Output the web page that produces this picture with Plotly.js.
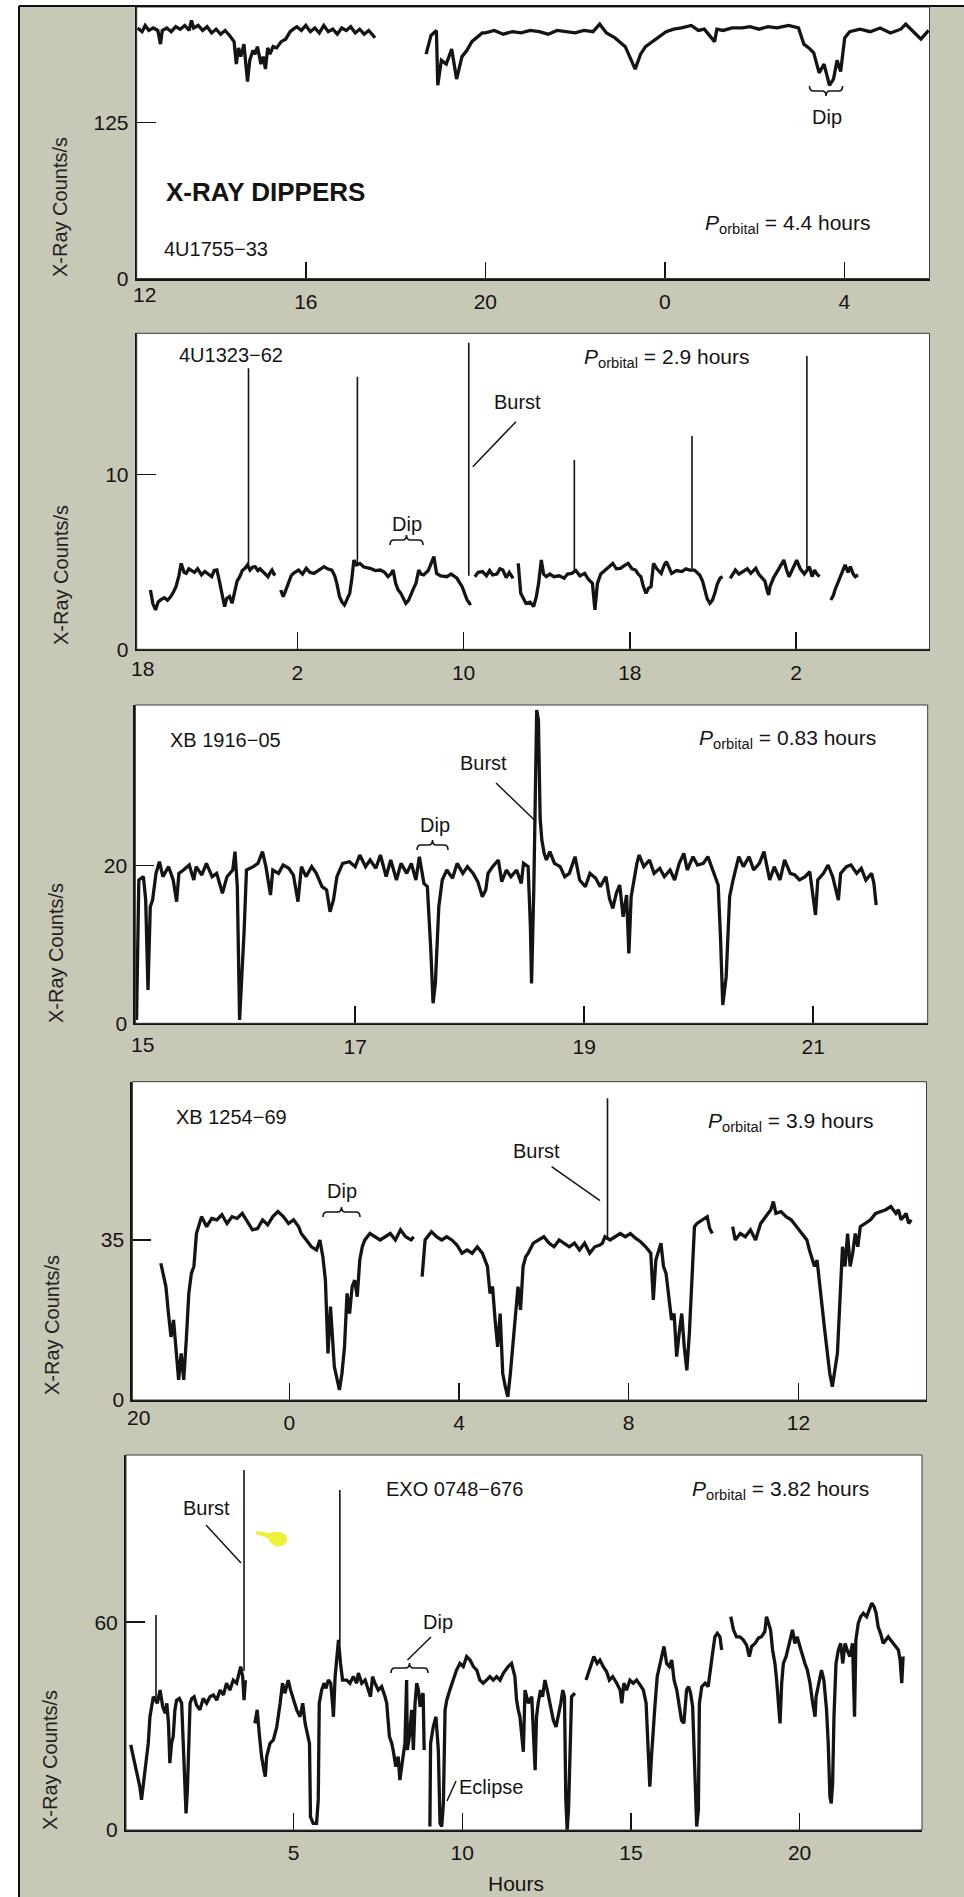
<!DOCTYPE html>
<html><head><meta charset="utf-8">
<script src="https://cdn.plot.ly/plotly-3.0.1.min.js"></script>
<style>html,body{margin:0;padding:0;background:#c7c9b6;}#chart{width:964px;height:1897px;}</style>
</head><body><div id="chart"></div>
<script>
// ---------------- DATA ----------------
// Panel 1: 4U1755-33 (hours continue past midnight: 24 = 0h, 28 = 4h)
const p1_hours = [12.25,12.35,12.42,12.5,12.6,12.7,12.76,12.8,12.9,13.0,
 13.1,13.2,13.3,13.4,13.45,13.5,13.6,13.7,13.8,13.9,
 14.0,14.1,14.2,14.3,14.4,14.45,14.5,14.55,14.62,14.7,
 14.75,14.82,14.87,14.92,15.0,15.05,15.1,15.15,15.2,15.27,
 15.35,15.45,15.55,15.65,15.72,15.8,15.9,16.0,16.1,16.2,
 16.3,16.4,16.5,16.6,16.7,16.8,16.9,17.0,17.1,17.2,
 17.3,17.4,17.5,17.54,null,
 18.68,18.79,18.91,18.94,19.02,19.13,19.25,19.36,19.48,19.59,
 19.7,19.82,19.93,20.0,20.2,20.4,20.6,20.8,21.0,21.2,
 21.4,21.6,21.8,22.0,22.2,22.4,22.55,22.7,22.89,23.12,
 23.34,23.46,23.57,23.8,24.03,24.2,24.37,24.59,24.75,24.88,
 25.11,25.16,25.3,25.5,25.73,25.9,26.1,26.3,26.5,26.76,
 26.98,27.1,27.21,27.32,27.44,27.55,27.67,27.76,27.84,27.92,
 28.01,28.12,28.35,28.58,28.8,29.03,29.26,29.37,29.54,29.71,
 29.88];
const p1_counts = [201,198,203,199,201,199,188,199,201,198,
 202,200,203,199,207,201,203,199,202,197,
 200,196,199,195,190,172,185,178,188,158,
 175,183,180,186,172,178,168,185,180,186,
 185,190,192,198,200,202,199,203,198,201,
 197,203,198,200,196,201,199,202,197,200,
 196,199,195,193,null,
 180,195,199,155,175,172,184,160,178,183,
 190,194,197,197,199,196,198,197,199,198,
 196,199,198,197,199,198,204,197,193,186,
 168,180,186,192,198,200,201,203,199,200,
 190,200,199,201,201,202,200,202,201,203,
 201,188,185,181,165,172,155,160,175,166,
 193,198,200,198,201,197,200,204,198,192,
 199];
const p1_xtickvals = [16,20,24,28];
const p1_xticktext = ['16','20','0','4'];
const p1_ytickvals = [0,125];

// Panel 2: 4U1323-62 (26 = 2h, 34 = 10h, 42 = 18h, 50 = 2h)
const p2_hours = [18.93,19.05,19.18,19.3,19.42,19.6,19.75,19.91,20.05,20.16,
 20.3,20.41,20.55,20.65,20.78,20.90,21.05,21.2,21.39,21.55,
 21.7,21.88,22.0,22.13,22.25,22.37,22.45,22.50,22.6,22.74,
 22.86,22.99,23.1,23.23,23.35,23.48,23.60,23.72,23.85,23.97,
 24.1,24.2,24.34,24.45,24.59,24.7,24.78,24.87,24.95,null,
 25.2,25.32,25.45,25.57,25.7,25.81,25.95,26.06,26.25,26.43,
 26.6,26.8,27.0,27.29,27.45,27.66,27.8,27.9,28.03,28.15,
 28.27,28.4,28.52,28.62,28.72,28.85,29.01,29.2,29.5,29.75,
 29.99,30.2,30.36,30.5,30.61,30.73,30.85,30.98,31.1,31.22,
 31.35,31.47,31.6,31.71,31.84,31.95,32.08,32.3,32.57,32.7,
 32.9,33.19,33.4,33.68,33.8,33.93,34.05,34.17,34.3,34.37,null,
 34.54,34.7,34.91,35.1,35.25,35.4,35.6,35.75,35.89,36.05,36.2,36.38,null,
 36.63,36.75,36.88,37.0,37.2,37.37,37.5,37.61,37.74,37.85,
 37.98,38.15,38.35,38.6,38.84,39.0,39.21,39.4,39.6,39.83,
 40.0,40.2,40.32,40.44,40.6,40.81,41.0,41.18,41.35,41.55,
 41.75,41.92,42.1,42.28,42.4,42.53,42.65,42.78,42.9,43.02,
 43.14,43.3,43.51,43.65,43.76,43.9,44.01,44.25,44.5,44.7,
 44.87,45.11,45.25,45.36,45.5,45.6,45.72,45.85,45.97,46.09,
 46.2,46.34,46.46,null,
 46.83,47.0,47.08,47.25,47.45,47.65,47.82,47.95,48.06,48.2,
 48.31,48.5,48.62,48.68,48.75,48.8,48.92,49.04,49.2,49.41,
 49.55,49.66,49.8,49.9,50.03,50.2,50.4,50.64,50.77,50.89,
 51.0,51.13,null,
 51.67,51.8,51.87,52.0,52.12,52.25,52.36,52.5,52.61,52.75,52.85,52.98];
const p2_counts = [3.39,2.6,2.25,2.7,2.82,2.95,2.8,3.01,3.3,3.58,
 4.2,4.91,4.4,4.34,4.6,4.53,4.4,4.6,4.25,4.45,
 4.3,4.15,4.5,4.53,3.9,3.2,2.5,2.44,2.9,3.01,
 2.63,3.39,3.9,4.15,4.5,4.63,4.82,4.53,4.7,4.72,
 4.5,4.6,4.44,4.3,4.15,4.4,4.53,4.3,4.25,null,
 3.39,3.01,3.4,3.77,4.2,4.34,4.45,4.53,4.3,4.63,
 4.4,4.34,4.5,4.72,4.6,4.53,4.2,3.77,3.01,2.7,
 2.53,2.9,3.20,4.0,5.1,4.82,4.91,4.7,4.63,4.5,
 4.53,4.4,4.15,4.3,4.53,3.77,3.4,3.20,2.9,2.63,
 2.8,3.20,3.5,3.77,4.53,4.3,4.25,4.5,5.3,4.34,
 4.2,4.15,4.3,4.06,3.8,3.58,3.2,2.82,2.6,2.63,null,
 4.15,4.4,4.44,4.2,4.5,4.25,4.3,4.6,4.53,4.1,4.4,4.06,null,
 4.91,3.2,2.9,2.63,2.7,2.44,3.0,3.77,5.1,4.3,
 4.15,4.3,4.15,4.2,4.06,4.3,4.34,4.5,4.2,4.34,
 4.0,3.77,2.25,3.77,4.3,4.53,4.7,4.91,4.6,4.63,
 4.8,4.91,4.6,4.53,4.3,4.15,3.6,3.2,3.5,3.58,
 4.91,4.6,4.34,4.8,5.01,4.6,4.34,4.5,4.44,4.6,
 4.53,4.53,4.4,4.25,3.9,3.39,2.9,2.63,2.8,3.2,
 3.7,4.06,4.15,null,
 4.06,4.4,4.53,4.3,4.44,4.6,4.34,4.5,4.63,4.3,
 4.15,3.9,3.3,3.1,3.6,3.77,4.1,4.34,4.7,5.1,
 4.5,4.15,4.5,4.82,5.1,4.6,4.3,4.72,4.15,4.53,
 4.3,4.15,null,
 2.82,3.1,3.39,3.8,4.15,4.5,4.82,4.4,4.72,4.3,4.15,4.25];
const p2_burstHours = [23.65,28.89,34.25,39.33,44.99,50.52];
const p2_burstBase  = [4.8,4.9,4.2,4.4,4.6,4.5];
const p2_burstPeak  = [16.06,15.58,17.52,10.82,12.19,16.76];
const p2_xtickvals = [26,34,42,50];
const p2_xticktext = ['2','10','18','2'];
const p2_ytickvals = [0,10];

// Panel 3: XB 1916-05
const p3_hours = [15.09,15.11,15.15,15.17,15.19,15.21,15.23,15.26,15.29,15.32,
 15.37,15.41,15.44,15.46,15.50,15.55,15.59,15.61,15.66,15.70,
 15.75,15.79,15.84,15.88,15.93,15.95,15.97,15.99,16.03,16.05,
 16.11,16.15,16.19,16.22,16.26,16.28,16.33,16.37,16.42,16.46,
 16.50,16.53,16.57,16.62,16.66,16.71,16.75,16.78,16.81,16.84,
 16.89,16.95,17.00,17.04,17.09,17.13,17.18,17.22,17.27,17.31,
 17.36,17.40,17.45,17.49,17.53,17.56,17.60,17.63,17.66,17.68,
 17.70,17.73,17.76,17.80,17.85,17.89,17.94,17.98,18.03,18.07,
 18.11,18.14,18.16,18.20,18.25,18.28,18.32,18.36,18.41,18.45,
 18.47,18.51,18.53,18.54,18.56,18.585,18.60,18.615,18.63,18.65,
 18.67,18.70,18.74,18.79,18.83,18.87,18.92,18.96,19.01,19.05,
 19.10,19.14,19.19,19.22,19.25,19.28,19.31,19.34,19.37,19.39,
 19.41,19.46,19.48,19.52,19.57,19.61,19.66,19.70,19.75,19.79,
 19.83,19.87,19.90,19.95,19.99,20.04,20.08,20.13,20.17,20.19,
 20.21,20.24,20.27,20.30,20.35,20.39,20.44,20.48,20.53,20.57,
 20.62,20.66,20.71,20.75,20.80,20.84,20.88,20.93,20.97,21.02,
 21.04,21.09,21.13,21.17,21.22,21.24,21.29,21.33,21.38,21.42,
 21.46,21.51,21.53,21.55];
const p3_counts = [0.42,18.19,18.61,15.65,4.23,14.80,15.65,19.03,20.51,18.61,
 19.88,18.19,15.44,19.03,19.46,20.09,18.19,19.88,18.82,20.30,
 18.61,19.03,16.50,18.61,19.46,21.78,17.34,0.42,11.84,19.46,
 19.88,20.30,21.78,19.88,16.28,19.46,19.03,20.09,19.67,18.82,
 15.44,19.88,18.61,19.88,19.03,17.34,16.92,14.17,15.65,18.61,
 20.30,20.51,19.88,21.36,19.88,20.73,19.67,21.36,18.61,20.73,
 18.19,20.30,19.03,20.30,18.19,21.15,17.76,17.34,9.30,2.54,
 5.07,14.80,18.19,19.46,18.40,20.30,19.03,19.88,19.03,17.98,
 16.07,16.92,19.03,19.88,20.73,17.98,19.46,18.61,19.46,17.76,
 20.30,19.88,12.27,5.07,17.34,39.76,38.5,26.0,23.26,21.57,
 20.73,21.78,20.30,19.88,18.61,19.03,21.15,18.19,17.34,19.03,
 18.40,17.34,18.61,15.86,14.59,16.50,17.55,13.53,16.28,8.88,
 16.07,20.30,21.36,19.88,20.73,19.03,19.67,18.61,19.46,18.19,
 20.30,21.57,19.46,21.15,20.09,20.30,21.15,19.03,17.55,11.0,
 2.32,5.92,16.07,18.19,21.15,19.88,21.15,19.46,20.30,21.78,
 18.19,19.88,18.19,20.73,19.03,18.82,18.19,18.61,19.25,13.75,
 18.19,19.03,20.09,18.61,15.65,19.03,19.88,20.09,19.03,19.67,
 18.19,19.03,17.76,15.01];
const p3_xtickvals = [17,19,21];
const p3_xticktext = ['17','19','21'];
const p3_ytickvals = [0,20];

// Panel 4: XB 1254-69 (24 = 0h ... 36 = 12h)
const p4_hours = [20.97,21.03,21.09,21.15,21.21,21.27,21.33,21.39,21.45,21.51,
 21.57,21.63,21.69,21.75,21.81,21.87,21.93,22.05,22.17,22.29,
 22.41,22.53,22.65,22.77,22.89,23.01,23.13,23.25,23.37,23.49,
 23.61,23.73,23.86,23.98,24.10,24.22,24.28,24.40,24.52,24.64,
 24.72,24.79,24.85,24.91,24.97,25.06,25.12,25.18,25.24,25.30,
 25.36,25.42,25.48,25.54,25.60,25.66,25.72,25.78,25.90,26.02,
 26.14,26.26,26.38,26.50,26.62,26.74,26.87,26.93,null,
 27.13,27.20,27.35,27.47,27.59,27.71,27.83,27.95,28.07,28.19,
 28.31,28.43,28.55,28.67,28.73,28.79,28.85,28.91,28.97,29.03,
 29.09,29.15,29.21,29.27,29.33,29.39,29.45,29.51,29.57,29.63,
 29.75,29.88,30.00,30.12,30.24,30.36,30.48,30.60,30.72,30.84,
 30.96,31.08,31.20,31.32,31.38,31.44,31.56,31.68,31.80,31.92,
 32.04,32.16,32.28,32.40,32.52,32.58,32.64,32.76,32.82,32.88,
 32.95,33.01,33.07,33.13,33.19,33.25,33.31,33.37,33.43,33.49,
 33.55,33.61,33.73,33.85,33.91,33.97,null,
 34.45,34.51,34.63,34.75,34.87,34.99,35.11,35.23,35.35,35.41,
 35.47,35.59,35.71,35.83,35.95,36.08,36.20,36.26,36.38,36.44,
 36.50,36.56,36.62,36.68,36.74,36.80,36.86,36.92,36.98,37.04,
 37.10,37.16,37.22,37.28,37.34,37.40,37.46,37.58,37.70,37.82,
 37.94,38.06,38.18,38.30,38.36,38.42,38.54,38.60,38.66];
const p4_counts = [29.9,27.7,24.8,18.9,13.8,17.5,11.6,4.4,10.2,4.4,
 13.1,23.3,27.7,29.2,36.4,38.6,40.1,37.9,39.7,39.4,
 40.5,38.6,40.1,39.7,40.8,39.0,37.2,37.5,39.4,38.3,
 40.1,41.2,40.1,38.6,39.4,37.9,36.4,35.0,33.5,32.8,
 35.0,31.3,26.2,10.2,20.4,7.3,4.4,2.2,5.8,11.6,
 23.3,18.9,24.8,26.2,22.6,30.6,33.5,35.0,36.4,35.7,
 35.0,35.7,36.4,35.0,37.2,35.7,35.0,35.7,null,
 27.0,35.0,36.8,35.7,35.0,35.7,35.0,33.9,32.1,32.8,
 32.1,33.5,32.1,29.2,23.3,24.8,17.5,11.6,18.9,5.8,
 2.9,0.7,5.8,11.6,18.9,24.8,19.7,29.2,31.3,32.1,
 34.3,35.0,35.7,34.3,33.5,35.0,34.3,33.5,34.3,32.8,
 34.3,32.1,33.5,33.9,34.3,35.7,35.0,35.7,36.4,35.7,
 36.4,35.4,34.6,33.5,32.1,21.9,30.6,34.3,29.2,27.7,
 22.6,17.5,18.9,9.5,14.6,18.9,11.6,6.5,14.6,26.2,
 37.9,38.6,39.4,40.1,37.5,36.4,null,
 37.9,35.0,36.4,35.7,37.2,35.0,38.6,40.1,41.6,43.4,
 40.8,41.2,40.1,39.4,37.9,36.4,35.0,32.8,29.2,30.6,
 24.8,20.4,15.3,10.2,5.8,2.9,6.5,10.2,21.9,33.5,
 29.2,36.4,29.2,32.1,36.4,33.5,37.9,38.6,39.4,40.8,
 41.2,41.6,42.3,40.8,41.6,39.4,40.8,38.6,39.4];
const p4_burstHours = [31.50];
const p4_burstBase  = [35.5];
const p4_burstPeak  = [66.0];
const p4_xtickvals = [24,28,32,36];
const p4_xticktext = ['0','4','8','12'];
const p4_ytickvals = [0,35];

// Panel 5: EXO 0748-676
const p5_hours = [0.17,0.25,0.35,0.44,0.49,0.54,0.62,0.69,0.74,0.79,
 0.84,0.96,1.04,1.12,1.19,1.24,1.29,1.33,1.38,1.43,
 1.48,1.53,1.61,1.68,1.73,1.78,1.81,1.85,1.90,1.93,
 1.98,2.05,2.12,2.22,2.32,2.42,2.52,2.62,2.72,2.82,
 2.92,3.01,3.11,3.21,3.31,3.39,3.43,3.49,3.53,3.57,null,
 3.85,3.92,3.98,4.05,4.12,4.16,4.20,4.25,4.30,4.40,
 4.50,4.60,4.67,4.74,4.84,4.91,4.99,5.09,5.19,5.27,
 5.34,5.39,5.47,5.50,5.58,5.68,5.73,5.76,5.83,5.90,
 5.96,6.03,6.10,6.16,6.18,6.23,6.29,6.33,6.39,6.45,
 6.57,6.67,6.77,6.87,6.92,7.02,7.12,7.21,7.28,7.34,
 7.41,7.51,7.61,7.71,7.76,7.84,7.91,7.95,8.03,8.10,
 8.15,8.23,8.30,8.35,8.37,8.43,8.50,8.55,8.60,8.65,
 8.70,8.75,8.79,8.84,8.87,null,
 9.04,9.06,9.14,9.22,9.29,9.34,9.39,9.44,9.49,9.54,
 9.63,9.73,9.83,9.93,10.03,10.13,10.23,10.33,10.43,10.52,
 10.62,10.72,10.82,10.92,11.02,11.12,11.22,11.36,11.46,11.56,
 11.61,11.66,11.71,11.81,11.86,11.96,12.06,12.16,12.20,12.25,
 12.32,12.38,12.45,12.52,12.60,12.70,12.78,12.85,12.92,12.98,
 13.03,13.07,13.11,13.15,13.19,13.24,13.34,null,
 13.67,13.74,13.81,13.90,14.00,14.08,14.18,14.28,14.36,14.46,
 14.58,14.68,14.73,14.79,14.87,14.97,15.07,15.17,15.27,15.37,
 15.45,15.49,15.53,15.56,15.61,15.66,15.71,15.78,15.86,15.94,
 15.98,16.06,16.14,16.21,16.28,16.36,16.43,16.50,16.57,16.65,
 16.71,16.77,16.83,16.87,16.91,16.95,17.00,17.03,17.10,17.20,
 17.29,17.36,17.42,17.49,17.56,17.64,17.69,null,
 17.96,18.04,18.13,18.23,18.33,18.43,18.51,18.58,18.68,18.78,
 18.87,18.97,19.02,19.07,19.14,19.20,19.27,19.32,19.37,19.42,
 19.47,19.52,19.60,19.67,19.74,19.79,19.86,19.93,20.01,20.09,
 20.16,20.23,20.31,20.39,20.46,20.49,20.56,20.65,20.72,20.80,
 20.85,20.90,20.94,20.98,21.02,21.08,21.15,21.22,21.28,21.35,
 21.41,21.49,21.57,21.63,21.67,21.74,21.81,21.89,21.99,22.07,
 22.14,22.21,22.27,22.33,22.40,22.48,22.56,22.63,22.70,22.78,
 22.86,22.93,22.98,23.03,23.07];
const p5_counts = [24.6,21.2,17.3,12.5,8.7,13.5,19.3,25.0,32.7,35.6,
 38.5,36.6,40.4,35.6,33.7,36.6,30.8,19.3,25.0,27.0,
 34.7,37.5,38.0,36.6,24.1,13.5,4.8,11.5,27.0,36.6,
 38.0,38.5,36.1,34.7,38.0,36.6,38.5,39.0,37.5,40.4,
 39.0,42.4,40.4,43.3,42.4,45.3,47.2,44.3,37.5,43.3,null,
 30.8,34.7,27.9,21.2,17.3,15.4,21.2,23.1,25.0,26.0,
 29.8,36.6,42.4,39.5,43.3,40.4,37.5,34.7,32.7,36.6,
 30.8,28.9,25.0,3.8,1.9,1.9,8.7,36.6,40.4,42.4,
 40.9,43.3,42.4,35.6,32.7,44.3,51.0,54.9,48.1,43.3,
 43.3,42.4,44.3,42.4,45.3,42.4,43.3,40.4,38.5,44.3,
 42.4,40.4,41.4,38.5,36.6,27.0,25.0,23.1,18.3,21.2,
 14.4,20.2,25.0,43.3,23.1,27.0,34.7,23.1,36.6,42.4,
 40.4,35.6,38.5,39.5,23.1,null,
 1.0,25.0,29.8,32.7,23.1,1.9,1.0,7.7,34.7,37.5,
 40.4,43.3,46.2,48.1,47.2,50.1,49.1,47.2,46.2,43.3,
 42.4,43.3,44.3,43.3,44.3,43.3,45.3,47.2,48.1,44.3,
 37.5,34.7,32.7,22.6,40.4,36.6,38.5,17.3,32.7,36.6,
 40.4,38.5,43.3,40.4,36.6,31.7,29.8,32.7,36.6,40.4,
 38.5,8.7,0.0,5.8,23.1,38.5,39.5,null,
 43.3,45.3,47.2,50.1,48.1,49.1,47.2,45.7,43.3,44.3,
 42.4,40.4,36.6,42.4,40.4,43.3,42.4,43.3,41.9,40.4,
 36.6,26.0,14.4,12.5,21.2,27.0,35.6,44.3,48.1,52.0,
 53.0,48.1,47.2,49.1,43.3,40.4,35.6,31.7,30.8,40.4,
 41.4,39.5,35.6,21.2,6.7,1.0,5.8,36.6,41.4,42.4,
 41.4,47.2,51.0,55.8,56.8,55.8,52.0,null,
 61.6,57.8,55.8,55.8,54.9,53.4,50.1,53.0,53.9,55.4,
 55.8,57.3,61.6,59.7,57.8,52.0,48.1,43.3,36.6,30.8,
 42.4,48.1,50.1,53.0,54.9,57.8,53.9,55.8,53.0,50.1,
 48.1,46.2,42.4,36.6,32.7,38.5,42.4,46.2,43.3,34.7,
 25.0,9.6,7.7,13.5,32.7,48.1,52.0,53.9,48.1,53.9,
 52.0,50.1,53.9,32.7,54.9,59.7,61.6,62.6,61.6,63.5,
 65.5,64.5,62.6,58.7,56.8,53.9,54.9,55.8,54.9,53.9,
 52.9,52.0,49.1,42.4,50.1];
const p5_burstHours = [0.92,3.53,6.37];
const p5_burstBase  = [38,46,54];
const p5_burstPeak  = [62.1,104.0,98.2];
const p5_xtickvals = [0,5,10,15,20];
const p5_xticktext = ['0','5','10','15','20'];
const p5_ytickvals = [0,60];

const sourceNames = ['4U1755\u221233','4U1323\u221262','XB 1916\u221205','XB 1254\u221269','EXO 0748\u2212676'];
const periods = ['4.4','2.9','0.83','3.9','3.82'];
const firstXLabels = ['12','18','15','20',null];

// ---------------- LAYOUT ----------------
const W = 964, H = 1897;
const X = x => x / W, Y = y => 1 - y / H;
const FONT = 'Liberation Sans, Arial, Helvetica, sans-serif';
const INK = '#141414';
const TICK = 21, LBL = 20;

const frames = [
  {x0:136.7, x1:929.5, yt:7,      yb:278.5},
  {x0:136.7, x1:929.5, yt:333.3,  yb:649.3},
  {x0:135.4, x1:927.7, yt:705,    yb:1023.3},
  {x0:132.4, x1:926.5, yt:1081.7, yb:1400},
  {x0:126,   x1:922,   yt:1455,   yb:1830}
];
const xRanges = [[12.23,29.9],[18.27,56.42],[15.08,22.0],[20.30,39.02],[0.03,23.63]];
const yRanges = [[0,217.8],[0,18.06],[0,40.4],[0,69.6],[0,108.3]];
const curves = [[p1_hours,p1_counts],[p2_hours,p2_counts],[p3_hours,p3_counts],[p4_hours,p4_counts],[p5_hours,p5_counts]];
const bursts = [null,[p2_burstHours,p2_burstBase,p2_burstPeak],null,[p4_burstHours,p4_burstBase,p4_burstPeak],[p5_burstHours,p5_burstBase,p5_burstPeak]];
const xticks = [[p1_xtickvals,p1_xticktext],[p2_xtickvals,p2_xticktext],[p3_xtickvals,p3_xticktext],[p4_xtickvals,p4_xticktext],[p5_xtickvals,p5_xticktext]];
const yticks = [p1_ytickvals,p2_ytickvals,p3_ytickvals,p4_ytickvals,p5_ytickvals];
const firstLabelPos = [[144.6,295],[142.8,668],[142.8,1044],[138.5,1417],null];
const yTitlePos = [[60,207],[61,575],[56,953],[52,1325],[50,1760]];

const traces = [];
const layout = {
  width: W, height: H, margin: {l:0,r:0,t:0,b:0},
  paper_bgcolor: '#c7c9b6', plot_bgcolor: '#ffffff',
  showlegend: false, font: {family: FONT, color: INK},
  shapes: [], annotations: []
};

frames.forEach((f, i) => {
  const n = i + 1, xa = 'x' + n, ya = 'y' + n;
  traces.push({x: curves[i][0], y: curves[i][1], xaxis: xa, yaxis: ya, type: 'scatter', mode: 'lines',
    line: {color: INK, width: 3.3}, connectgaps: false, hoverinfo: 'skip'});
  if (bursts[i]) {
    const bx = [], by = [];
    bursts[i][0].forEach((t, k) => { bx.push(t, t, null); by.push(bursts[i][1][k], bursts[i][2][k], null); });
    traces.push({x: bx, y: by, xaxis: xa, yaxis: ya, type: 'scatter', mode: 'lines',
      line: {color: INK, width: 1.6}, hoverinfo: 'skip'});
  }
  layout['xaxis' + n] = {
    domain: [X(f.x0), X(f.x1)], range: xRanges[i], anchor: ya,
    showline: true, linecolor: INK, linewidth: 2, mirror: false,
    ticks: 'inside', ticklen: 17, tickwidth: 1.5, tickcolor: INK,
    tickmode: 'array', tickvals: xticks[i][0], ticktext: xticks[i][1],
    tickfont: {family: FONT, size: TICK, color: INK}, ticklabelstandoff: 3,
    showgrid: false, zeroline: false, fixedrange: true
  };
  layout['yaxis' + n] = {
    domain: [Y(f.yb), Y(f.yt)], range: yRanges[i], anchor: xa,
    showline: true, linecolor: INK, linewidth: 2,
    ticks: 'inside', ticklen: 19, tickwidth: 1.5, tickcolor: INK,
    tickmode: 'array', tickvals: yticks[i],
    tickfont: {family: FONT, size: TICK, color: INK}, ticklabelstandoff: 2,
    showgrid: false, zeroline: false, fixedrange: true
  };
  layout.shapes.push({type: 'rect', xref: 'paper', yref: 'paper', x0: X(f.x0), x1: X(f.x1), y0: Y(f.yb), y1: Y(f.yt),
    line: {color: '#3a3a3a', width: 1}, fillcolor: 'rgba(0,0,0,0)', layer: 'above'});
  if (firstXLabels[i]) {
    layout.annotations.push({xref: 'paper', yref: 'paper', x: X(firstLabelPos[i][0]), y: Y(firstLabelPos[i][1]),
      text: firstXLabels[i], showarrow: false, xanchor: 'center', yanchor: 'middle',
      font: {family: FONT, size: TICK, color: INK}});
  }
  layout.annotations.push({xref: 'paper', yref: 'paper', x: X(yTitlePos[i][0]), y: Y(yTitlePos[i][1]),
    text: 'X-Ray Counts/s', textangle: -90, showarrow: false, xanchor: 'center', yanchor: 'middle',
    font: {family: FONT, size: 20, color: '#222'}});
});

function txt(t, x, y, opts) {
  layout.annotations.push(Object.assign({xref: 'paper', yref: 'paper', x: X(x), y: Y(y), text: t, showarrow: false,
    xanchor: 'left', yanchor: 'middle', font: {family: FONT, size: LBL, color: INK}}, opts || {}));
}
function seg(x0, y0, x1, y1, w) {
  layout.shapes.push({type: 'line', xref: 'paper', yref: 'paper', x0: X(x0), y0: Y(y0), x1: X(x1), y1: Y(y1),
    line: {color: INK, width: w || 1.5}});
}
function brace(x0, x1, y, up) {
  const h = up ? 5 : -5, xm = (x0 + x1) / 2, r = 4;
  const P = (x, yy) => X(x).toFixed(5) + ',' + Y(yy).toFixed(5);
  const d = 'M' + P(x0, y + h) + ' Q' + P(x0, y) + ' ' + P(x0 + r, y) + ' L' + P(xm - r, y) +
    ' Q' + P(xm, y) + ' ' + P(xm, y - h) + ' Q' + P(xm, y) + ' ' + P(xm + r, y) +
    ' L' + P(x1 - r, y) + ' Q' + P(x1, y) + ' ' + P(x1, y + h);
  layout.shapes.push({type: 'path', xref: 'paper', yref: 'paper', path: d, line: {color: INK, width: 1.6}});
}
const porb = p => '<i>P</i><sub>orbital</sub> = ' + p + ' hours';
const PORB_FONT = {family: FONT, size: 21, color: INK};

// Panel 1
txt('X-RAY DIPPERS', 164, 192, {font: {family: FONT, size: 26, color: INK, weight: 'bold'}});
txt(sourceNames[0], 162, 249);
txt(porb(periods[0]), 703, 224, {font: PORB_FONT});
txt('Dip', 826.5, 117, {xanchor: 'center'});
brace(809.5, 842.6, 91, false);
// Panel 2
txt(sourceNames[1], 177, 355);
txt(porb(periods[1]), 582, 358, {font: PORB_FONT});
txt('Burst', 517, 402, {xanchor: 'center'});
seg(516, 421.7, 472.8, 466.7);
txt('Dip', 407, 524, {xanchor: 'center'});
brace(390, 423, 540, true);
// Panel 3
txt(sourceNames[2], 168, 740);
txt(porb(periods[2]), 697, 739, {font: PORB_FONT});
txt('Burst', 483, 763, {xanchor: 'center'});
seg(496, 783, 534.4, 820);
txt('Dip', 435, 825, {xanchor: 'center'});
brace(417, 448, 845, true);
// Panel 4
txt(sourceNames[3], 174, 1117);
txt(porb(periods[3]), 706, 1122, {font: PORB_FONT});
txt('Burst', 536, 1151, {xanchor: 'center'});
seg(551.6, 1166.7, 600, 1200.7);
txt('Dip', 342, 1191, {xanchor: 'center'});
brace(323, 360, 1212, true);
// Panel 5
txt(sourceNames[4], 384, 1489);
txt(porb(periods[4]), 690, 1490, {font: PORB_FONT});
txt('Burst', 206, 1508, {xanchor: 'center'});
seg(206, 1525, 241, 1563);
txt('Dip', 438, 1622, {xanchor: 'center'});
seg(431, 1637, 407.5, 1660);
brace(391, 428, 1668, true);
txt('Eclipse', 457, 1787);
seg(456, 1781, 447, 1801);
txt('Hours', 515.6, 1883, {xanchor: 'center', font: {family: FONT, size: 21, color: INK}});

// yellow highlighter smudge
(function(){
  const P = (x, yy) => X(x).toFixed(5) + ',' + Y(yy).toFixed(5);
  const d = 'M' + P(256, 1531) + ' L' + P(270, 1533) + ' Q' + P(282, 1529) + ' ' + P(287, 1537) +
    ' Q' + P(288, 1546) + ' ' + P(277, 1547) + ' Q' + P(270, 1544) + ' ' + P(268, 1538) + ' L' + P(256, 1534) + ' Z';
  layout.shapes.push({type: 'path', xref: 'paper', yref: 'paper', path: d, fillcolor: '#eef03a', line: {width: 0}});
})();

// page edge: white margin with black border (top/left)
layout.shapes.push({type: 'rect', xref: 'paper', yref: 'paper', x0: 0, x1: X(19), y0: 0, y1: 1, fillcolor: '#ffffff', line: {width: 0}, layer: 'below'});
layout.shapes.push({type: 'rect', xref: 'paper', yref: 'paper', x0: 0, x1: 1, y0: Y(6), y1: 1, fillcolor: '#ffffff', line: {width: 0}, layer: 'below'});
layout.shapes.push({type: 'line', xref: 'paper', yref: 'paper', x0: X(19), x1: X(19), y0: 0, y1: Y(6), line: {color: '#111', width: 2}});
layout.shapes.push({type: 'line', xref: 'paper', yref: 'paper', x0: X(19), x1: 1, y0: Y(6), y1: Y(6), line: {color: '#111', width: 2}});

Plotly.newPlot('chart', traces, layout, {displayModeBar: false, staticPlot: true});
</script>
</body></html>
